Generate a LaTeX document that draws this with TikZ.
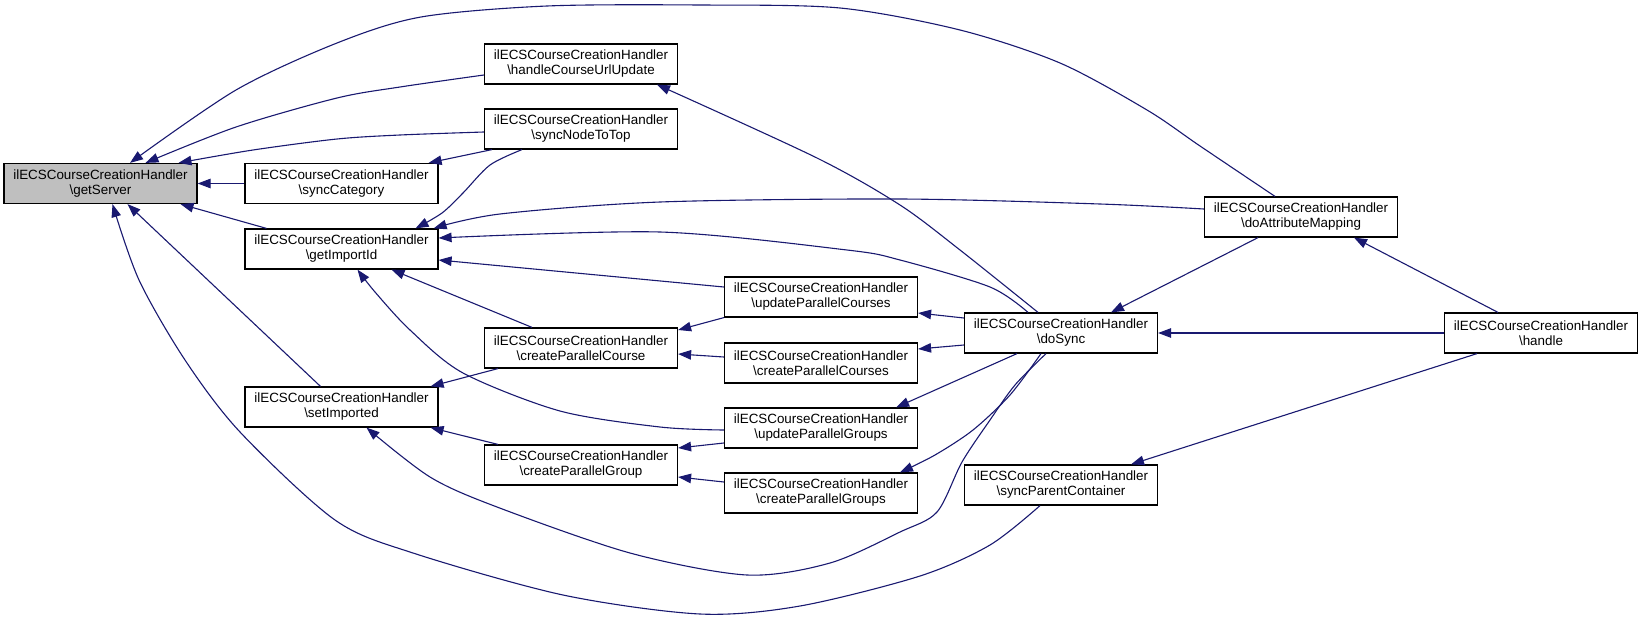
\documentclass[tikz,border=0pt]{standalone}
\usepackage{fontspec}
\setmainfont{Liberation Sans}
\usetikzlibrary{arrows.meta,calc}
\definecolor{edgecol}{RGB}{25,25,112}
\definecolor{rootfill}{RGB}{191,191,191}
\begin{document}
\begin{tikzpicture}[x=1pt,y=-1pt,
  box/.style={draw=black, line width=1.2pt, minimum width=193pt, minimum height=40pt, inner sep=0pt,
    align=center, fill=white, font=\fontsize{13.4}{15}\selectfont},
  root/.style={box, fill=rootfill},
  e/.style={draw=edgecol, line width=1.1pt, -{Triangle[length=13pt,width=9.5pt]}},
  sm/.style={smooth, tension=0.5}]
\useasboundingbox (0,0) rectangle (1643,621);
% nodes
\node[root] (gs)   at (100.5,183.5) {ilECSCourseCreationHandler\\\textbackslash getServer};
\node[box]  (sc)   at (341.5,183.5) {ilECSCourseCreationHandler\\\textbackslash syncCategory};
\node[box]  (gii)  at (341.5,249)   {ilECSCourseCreationHandler\\\textbackslash getImportId};
\node[box]  (si)   at (341.5,407)   {ilECSCourseCreationHandler\\\textbackslash setImported};
\node[box]  (hcu)  at (581,64)      {ilECSCourseCreationHandler\\\textbackslash handleCourseUrlUpdate};
\node[box]  (snt)  at (581,129)     {ilECSCourseCreationHandler\\\textbackslash syncNodeToTop};
\node[box]  (cpc)  at (581,348)     {ilECSCourseCreationHandler\\\textbackslash createParallelCourse};
\node[box]  (cpg)  at (581,465)     {ilECSCourseCreationHandler\\\textbackslash createParallelGroup};
\node[box]  (upc)  at (821,297)     {ilECSCourseCreationHandler\\\textbackslash updateParallelCourses};
\node[box]  (cpcs) at (821,363)     {ilECSCourseCreationHandler\\\textbackslash createParallelCourses};
\node[box]  (upg)  at (821,428)     {ilECSCourseCreationHandler\\\textbackslash updateParallelGroups};
\node[box]  (cpgs) at (821,493)     {ilECSCourseCreationHandler\\\textbackslash createParallelGroups};
\node[box]  (ds)   at (1061,333)    {ilECSCourseCreationHandler\\\textbackslash doSync};
\node[box]  (spc)  at (1061,485)    {ilECSCourseCreationHandler\\\textbackslash syncParentContainer};
\node[box]  (dam)  at (1301,217)    {ilECSCourseCreationHandler\\\textbackslash doAttributeMapping};
\node[box]  (h)    at (1541,333)    {ilECSCourseCreationHandler\\\textbackslash handle};
% curved edges
\draw[e] plot[sm] coordinates {($(dam.north)+(-26,0)$) (1200,146) (1147,110) (1060,63) (960,30) (840,8) (700,5) (547,6) (421,17) (337,43) (236,90) ($(gs.north)+(29.5,0)$)};
\draw[e] plot[sm] coordinates {($(hcu.west)+(0,11)$) (400,87) (337,98) (236,127) ($(gs.north)+(45,0)$)};
\draw[e] plot[sm] coordinates {($(snt.west)+(0,3)$) (400,135) (337,139) (253,150) ($(gs.north)+(78,0)$)};
\draw[e] plot[sm] coordinates {($(spc.south)+(-21,0)$) (990,545) (920,576) (800,606) (700,614) (563,595) (413,553) (335,520) (240,432) (185,360) (139,280) ($(gs.south)+(12,0)$)};
\draw[e] plot[sm] coordinates {($(snt.south)+(-59,0)$) (490,165) (463,193) (442,213) ($(gii.north)+(74,0)$)};
\draw[e] plot[sm] coordinates {($(dam.west)+(0,-8)$) (1100,204) (900,199) (660,202) (500,214) ($(gii.north east)+(-5,0)$)};
\draw[e] plot[sm] coordinates {($(ds.north)+(-33,0)$) (990,287) (900,260) (847,250) (660,232) ($(gii.east)+(0,-11)$)};
\draw[e] plot[sm] coordinates {($(upg.west)+(0,2)$) (660,427) (560,411) (463,373) (410,330) (375,292) ($(gii.south)+(16,0)$)};
\draw[e] plot[sm] coordinates {($(ds.south)+(-15,0)$) (1015,385) (990,420) (962,462) (937,512) (900,532) (830,563) (747,575) (630,553) (497,507) (430,477) ($(si.south)+(25,0)$)};
\draw[e] plot[sm] coordinates {($(ds.south)+(-20,0)$) (1010,395) (973,430) (935,455) ($(cpgs.north)+(79,0)$)};
\draw[e] plot[sm] coordinates {($(ds.north)+(-23,0)$) (960,250) (900,205) (817,158) ($(hcu.south)+(76,0)$)};
% straight edges
\draw[e] (sc.west) -- (gs.east);
\draw[e] ($(gii.north)+(-75,0)$) -- ($(gs.south)+(80,0)$);
\draw[e] ($(si.north)+(-21,0)$) -- ($(gs.south)+(27,0)$);
\draw[e] ($(snt.south)+(-89,0)$) -- ($(sc.north east)+(-10,0)$);
\draw[e] ($(upc.west)+(0,-10)$) -- ($(gii.east)+(0,11)$);
\draw[e] ($(cpc.north)+(-49,0)$) -- ($(gii.south)+(50,0)$);
\draw[e] ($(cpc.south west)+(14,0)$) -- ($(si.north east)+(-8,0)$);
\draw[e] ($(cpg.north west)+(14,0)$) -- ($(si.south east)+(-8,0)$);
\draw[e] (upc.south west) -- ($(cpc.east)+(0,-18)$);
\draw[e] ($(cpcs.west)+(0,-6)$) -- ($(cpc.east)+(0,6)$);
\draw[e] ($(upg.west)+(0,15)$) -- ($(cpg.east)+(0,-17)$);
\draw[e] ($(cpgs.west)+(0,-11)$) -- ($(cpg.east)+(0,12)$);
\draw[e] ($(ds.west)+(0,-15)$) -- ($(upc.east)+(0,16)$);
\draw[e] ($(ds.west)+(0,12)$) -- ($(cpcs.east)+(0,-14)$);
\draw[e] ($(ds.south)+(-44,0)$) -- ($(upg.north east)+(-22,0)$);
\draw[e] ($(dam.south)+(-43,0)$) -- ($(ds.north)+(50,0)$);
\draw[e] ($(h.north)+(-43,0)$) -- ($(dam.south)+(53,0)$);
\draw[e] (h.west) -- (ds.east);
\draw[e] ($(h.south)+(-64,0)$) -- ($(spc.north)+(70,0)$);
\end{tikzpicture}
\end{document}
